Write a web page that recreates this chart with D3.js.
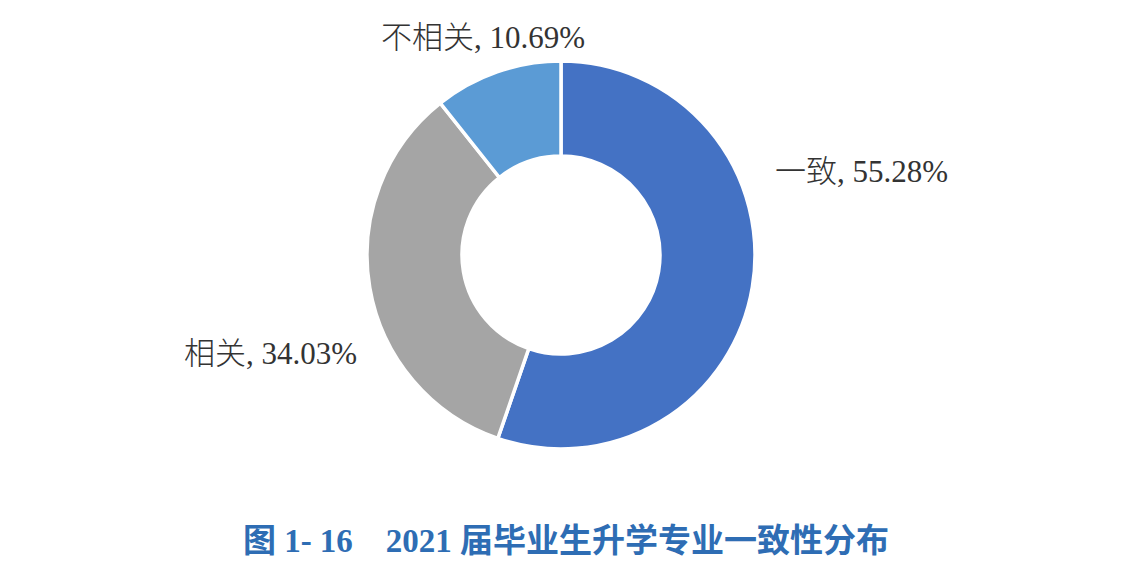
<!DOCTYPE html>
<html><head><meta charset="utf-8">
<script src="https://cdn.jsdelivr.net/npm/d3@7/dist/d3.min.js"></script>
<style>body{margin:0;background:#fff}</style></head>
<body><svg id="c" width="1126" height="582"></svg>
<script>
const categories = ["一致", "相关", "不相关"];
const values = [55.28, 34.03, 10.69];
const colors = ["#4472C4", "#A5A5A5", "#5B9BD5"];
const title = "图 1- 16\u00a0\u00a0\u00a0\u00a02021 届毕业生升学专业一致性分布";

const svg = d3.select("#c");
const font = "'Liberation Serif','Times New Roman','Noto Sans CJK SC',serif";
const g = svg.append("g").attr("transform", "translate(561,255)");
const pie = d3.pie().sort(null)(values);
const arc = d3.arc().innerRadius(99).outerRadius(194);
g.selectAll("path").data(pie).join("path")
  .attr("d", arc).attr("fill", (d, i) => colors[i])
  .attr("stroke", "#fff").attr("stroke-width", 3.5);

const labelPos = [[775, 182, "start"], [357, 364, "end"], [585, 48, "end"]];
categories.forEach((c, i) => {
  svg.append("text").attr("x", labelPos[i][0]).attr("y", labelPos[i][1])
    .attr("text-anchor", labelPos[i][2]).attr("font-family", font)
    .attr("font-size", 31).attr("font-weight", 300).attr("fill", "#333")
    .text(c + ", " + values[i].toFixed(2) + "%");
});
svg.append("text").attr("x", 566).attr("y", 552).attr("text-anchor", "middle")
  .attr("font-family", font).attr("font-size", 33).attr("font-weight", "bold")
  .attr("fill", "#2E6DB4").text(title);
</script></body></html>
